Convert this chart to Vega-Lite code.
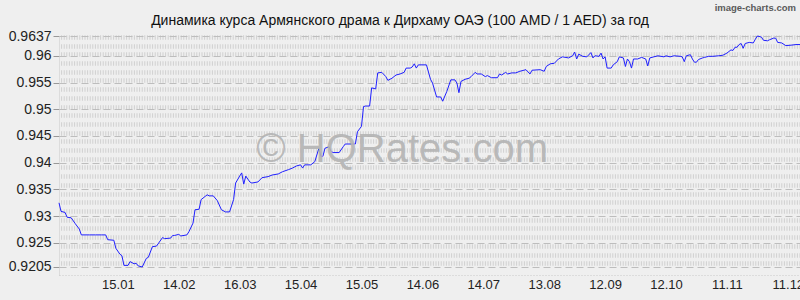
{
  "$schema": "https://vega.github.io/schema/vega-lite/v6.json",
  "width": 741,
  "height": 239,
  "autosize": {"type": "none"},
  "padding": {"left": 59, "top": 36, "right": 0, "bottom": 25},
  "background": "#efefef",
  "config": {
    "view": {"stroke": null},
    "font": "Liberation Sans"
  },
  "datasets": {
    "rates": [
      {"d": "2018-12-17", "v": 0.9325}, {"d": "2018-12-18", "v": 0.9309}, {"d": "2018-12-20", "v": 0.9307},
      {"d": "2018-12-21", "v": 0.9298}, {"d": "2018-12-23", "v": 0.9297}, {"d": "2018-12-25", "v": 0.9286},
      {"d": "2018-12-27", "v": 0.9276}, {"d": "2018-12-28", "v": 0.9265}, {"d": "2019-01-01", "v": 0.9265},
      {"d": "2019-01-04", "v": 0.9265}, {"d": "2019-01-07", "v": 0.9265}, {"d": "2019-01-09", "v": 0.9265},
      {"d": "2019-01-10", "v": 0.9256}, {"d": "2019-01-13", "v": 0.9255}, {"d": "2019-01-14", "v": 0.924},
      {"d": "2019-01-16", "v": 0.9229}, {"d": "2019-01-17", "v": 0.9226}, {"d": "2019-01-18", "v": 0.9208},
      {"d": "2019-01-20", "v": 0.9208}, {"d": "2019-01-21", "v": 0.9215}, {"d": "2019-01-23", "v": 0.9211},
      {"d": "2019-01-24", "v": 0.9212}, {"d": "2019-01-25", "v": 0.9207}, {"d": "2019-01-27", "v": 0.9205},
      {"d": "2019-01-29", "v": 0.9221}, {"d": "2019-01-30", "v": 0.9223}, {"d": "2019-02-01", "v": 0.9243},
      {"d": "2019-02-03", "v": 0.9244}, {"d": "2019-02-06", "v": 0.926}, {"d": "2019-02-07", "v": 0.9258},
      {"d": "2019-02-10", "v": 0.9259}, {"d": "2019-02-11", "v": 0.9264}, {"d": "2019-02-12", "v": 0.9264},
      {"d": "2019-02-14", "v": 0.9266}, {"d": "2019-02-15", "v": 0.9263}, {"d": "2019-02-18", "v": 0.9265},
      {"d": "2019-02-19", "v": 0.9271}, {"d": "2019-02-21", "v": 0.9287}, {"d": "2019-02-22", "v": 0.9312},
      {"d": "2019-02-24", "v": 0.9313}, {"d": "2019-02-25", "v": 0.9331}, {"d": "2019-02-27", "v": 0.9337},
      {"d": "2019-02-28", "v": 0.934}, {"d": "2019-03-01", "v": 0.9338}, {"d": "2019-03-03", "v": 0.9338},
      {"d": "2019-03-05", "v": 0.9329}, {"d": "2019-03-07", "v": 0.9312}, {"d": "2019-03-09", "v": 0.9308},
      {"d": "2019-03-11", "v": 0.9308}, {"d": "2019-03-13", "v": 0.9331}, {"d": "2019-03-14", "v": 0.9362},
      {"d": "2019-03-16", "v": 0.9375}, {"d": "2019-03-17", "v": 0.9381}, {"d": "2019-03-18", "v": 0.936},
      {"d": "2019-03-19", "v": 0.9375}, {"d": "2019-03-21", "v": 0.9364}, {"d": "2019-03-22", "v": 0.9362},
      {"d": "2019-03-25", "v": 0.9364}, {"d": "2019-03-27", "v": 0.9372}, {"d": "2019-03-30", "v": 0.9374},
      {"d": "2019-04-01", "v": 0.9377}, {"d": "2019-04-04", "v": 0.9379}, {"d": "2019-04-06", "v": 0.9383},
      {"d": "2019-04-09", "v": 0.9387}, {"d": "2019-04-11", "v": 0.939}, {"d": "2019-04-13", "v": 0.9394},
      {"d": "2019-04-15", "v": 0.9396}, {"d": "2019-04-16", "v": 0.939}, {"d": "2019-04-17", "v": 0.9396},
      {"d": "2019-04-20", "v": 0.9396}, {"d": "2019-04-22", "v": 0.9402}, {"d": "2019-04-24", "v": 0.9427},
      {"d": "2019-04-25", "v": 0.9412}, {"d": "2019-04-26", "v": 0.9412}, {"d": "2019-04-27", "v": 0.9427},
      {"d": "2019-04-29", "v": 0.943}, {"d": "2019-04-30", "v": 0.9421}, {"d": "2019-05-01", "v": 0.9419},
      {"d": "2019-05-04", "v": 0.9419}, {"d": "2019-05-06", "v": 0.943}, {"d": "2019-05-07", "v": 0.9435},
      {"d": "2019-05-12", "v": 0.9435}, {"d": "2019-05-13", "v": 0.9458}, {"d": "2019-05-15", "v": 0.9468},
      {"d": "2019-05-16", "v": 0.9505}, {"d": "2019-05-17", "v": 0.9506}, {"d": "2019-05-19", "v": 0.9506},
      {"d": "2019-05-20", "v": 0.954}, {"d": "2019-05-22", "v": 0.9538}, {"d": "2019-05-23", "v": 0.9568},
      {"d": "2019-05-25", "v": 0.9569}, {"d": "2019-05-27", "v": 0.9561}, {"d": "2019-05-28", "v": 0.9554},
      {"d": "2019-05-30", "v": 0.9558}, {"d": "2019-06-01", "v": 0.9564}, {"d": "2019-06-03", "v": 0.9566},
      {"d": "2019-06-05", "v": 0.9569}, {"d": "2019-06-06", "v": 0.9577}, {"d": "2019-06-08", "v": 0.9577},
      {"d": "2019-06-09", "v": 0.9579}, {"d": "2019-06-10", "v": 0.9585}, {"d": "2019-06-11", "v": 0.9577},
      {"d": "2019-06-12", "v": 0.9583}, {"d": "2019-06-16", "v": 0.9583}, {"d": "2019-06-18", "v": 0.9556},
      {"d": "2019-06-19", "v": 0.9549}, {"d": "2019-06-21", "v": 0.9523}, {"d": "2019-06-23", "v": 0.9523},
      {"d": "2019-06-24", "v": 0.9515}, {"d": "2019-06-26", "v": 0.9533}, {"d": "2019-06-28", "v": 0.9555},
      {"d": "2019-06-30", "v": 0.9555}, {"d": "2019-07-01", "v": 0.9549}, {"d": "2019-07-02", "v": 0.9531},
      {"d": "2019-07-03", "v": 0.9552}, {"d": "2019-07-05", "v": 0.9556}, {"d": "2019-07-07", "v": 0.9558},
      {"d": "2019-07-08", "v": 0.9561}, {"d": "2019-07-10", "v": 0.9569}, {"d": "2019-07-11", "v": 0.9566},
      {"d": "2019-07-13", "v": 0.9566}, {"d": "2019-07-15", "v": 0.9561}, {"d": "2019-07-16", "v": 0.9563},
      {"d": "2019-07-18", "v": 0.9559}, {"d": "2019-07-21", "v": 0.9559}, {"d": "2019-07-22", "v": 0.9566},
      {"d": "2019-07-23", "v": 0.9564}, {"d": "2019-07-25", "v": 0.9569}, {"d": "2019-07-26", "v": 0.9566},
      {"d": "2019-07-28", "v": 0.9568}, {"d": "2019-07-30", "v": 0.9568}, {"d": "2019-08-01", "v": 0.9571},
      {"d": "2019-08-04", "v": 0.9574}, {"d": "2019-08-06", "v": 0.9566}, {"d": "2019-08-07", "v": 0.9573},
      {"d": "2019-08-11", "v": 0.9574}, {"d": "2019-08-13", "v": 0.9571}, {"d": "2019-08-14", "v": 0.958},
      {"d": "2019-08-16", "v": 0.9585}, {"d": "2019-08-18", "v": 0.9586}, {"d": "2019-08-20", "v": 0.9594},
      {"d": "2019-08-22", "v": 0.9598}, {"d": "2019-08-25", "v": 0.9596}, {"d": "2019-08-27", "v": 0.96},
      {"d": "2019-08-28", "v": 0.9607}, {"d": "2019-08-29", "v": 0.9594}, {"d": "2019-08-30", "v": 0.9603},
      {"d": "2019-09-01", "v": 0.9599}, {"d": "2019-09-03", "v": 0.9598}, {"d": "2019-09-05", "v": 0.9606},
      {"d": "2019-09-06", "v": 0.9596}, {"d": "2019-09-07", "v": 0.96}, {"d": "2019-09-09", "v": 0.9599},
      {"d": "2019-09-10", "v": 0.9605}, {"d": "2019-09-11", "v": 0.9594}, {"d": "2019-09-12", "v": 0.9598},
      {"d": "2019-09-13", "v": 0.9577}, {"d": "2019-09-15", "v": 0.9577}, {"d": "2019-09-16", "v": 0.9583},
      {"d": "2019-09-18", "v": 0.9589}, {"d": "2019-09-19", "v": 0.9598}, {"d": "2019-09-21", "v": 0.9596},
      {"d": "2019-09-22", "v": 0.958}, {"d": "2019-09-23", "v": 0.9594}, {"d": "2019-09-24", "v": 0.9589},
      {"d": "2019-09-25", "v": 0.9577}, {"d": "2019-09-26", "v": 0.9594}, {"d": "2019-09-28", "v": 0.9594},
      {"d": "2019-09-30", "v": 0.9597}, {"d": "2019-10-02", "v": 0.9594}, {"d": "2019-10-03", "v": 0.9581},
      {"d": "2019-10-04", "v": 0.9596}, {"d": "2019-10-06", "v": 0.9598}, {"d": "2019-10-08", "v": 0.96},
      {"d": "2019-10-11", "v": 0.9598}, {"d": "2019-10-12", "v": 0.96}, {"d": "2019-10-14", "v": 0.9598},
      {"d": "2019-10-16", "v": 0.96}, {"d": "2019-10-19", "v": 0.9599}, {"d": "2019-10-20", "v": 0.9598},
      {"d": "2019-10-21", "v": 0.9589}, {"d": "2019-10-22", "v": 0.96}, {"d": "2019-10-24", "v": 0.9602},
      {"d": "2019-10-25", "v": 0.9594}, {"d": "2019-10-26", "v": 0.9588}, {"d": "2019-10-27", "v": 0.9588},
      {"d": "2019-10-28", "v": 0.9593}, {"d": "2019-10-30", "v": 0.9596}, {"d": "2019-10-31", "v": 0.9597},
      {"d": "2019-11-02", "v": 0.9599}, {"d": "2019-11-04", "v": 0.9599}, {"d": "2019-11-07", "v": 0.96},
      {"d": "2019-11-09", "v": 0.9601}, {"d": "2019-11-11", "v": 0.9605}, {"d": "2019-11-12", "v": 0.9608},
      {"d": "2019-11-13", "v": 0.9611}, {"d": "2019-11-14", "v": 0.961}, {"d": "2019-11-15", "v": 0.9616},
      {"d": "2019-11-16", "v": 0.9616}, {"d": "2019-11-17", "v": 0.9621}, {"d": "2019-11-18", "v": 0.9623},
      {"d": "2019-11-19", "v": 0.9614}, {"d": "2019-11-20", "v": 0.9623}, {"d": "2019-11-22", "v": 0.9625},
      {"d": "2019-11-24", "v": 0.9624}, {"d": "2019-11-25", "v": 0.9631}, {"d": "2019-11-26", "v": 0.9637},
      {"d": "2019-11-28", "v": 0.9635}, {"d": "2019-11-29", "v": 0.9629}, {"d": "2019-12-01", "v": 0.9628},
      {"d": "2019-12-02", "v": 0.963}, {"d": "2019-12-04", "v": 0.9633}, {"d": "2019-12-05", "v": 0.9633},
      {"d": "2019-12-06", "v": 0.9625}, {"d": "2019-12-08", "v": 0.9624}, {"d": "2019-12-10", "v": 0.9619},
      {"d": "2019-12-13", "v": 0.962}, {"d": "2019-12-15", "v": 0.9621}, {"d": "2019-12-17", "v": 0.9621}
    ],
    "labels": [{"label": "one"}]
  },
  "resolve": {"axis": {"y": "independent", "x": "independent"}},
  "layer": [
    {
      "data": {"name": "rates"},
      "mark": {"type": "line", "strokeOpacity": 0},
      "encoding": {
        "x": {"field": "d", "type": "temporal", "scale": {"type": "utc", "domain": [{"year": 2018, "month": 12, "date": 17, "utc": true}, {"year": 2019, "month": 12, "date": 17, "utc": true}]}, "axis": null},
        "y": {
          "field": "v", "type": "quantitative",
          "scale": {"domain": [0.919, 0.9637], "nice": false, "zero": false},
          "axis": {
            "orient": "right", "title": null, "labels": false, "ticks": false, "domain": false,
            "grid": true, "gridColor": "#d0d0d0", "gridWidth": 4.5, "gridDash": [1, 1.6],
            "values": [0.9212, 0.92283, 0.92446, 0.92609, 0.92771, 0.92934, 0.93097, 0.9326, 0.93423, 0.93586, 0.93749, 0.93911, 0.94074, 0.94237, 0.944, 0.94563, 0.94726, 0.94889, 0.95051, 0.95214, 0.95377, 0.9554, 0.95703, 0.95866, 0.96029, 0.96191, 0.96354]
          }
        }
      }
    },
    {
      "data": {"name": "rates"},
      "mark": {"type": "line", "color": "#1f1fff", "strokeWidth": 1, "interpolate": "linear"},
      "encoding": {
        "x": {
          "field": "d", "type": "temporal",
          "scale": {"type": "utc", "domain": [{"year": 2018, "month": 12, "date": 17, "utc": true}, {"year": 2019, "month": 12, "date": 17, "utc": true}]},
          "axis": {
            "orient": "bottom", "title": null, "grid": false, "ticks": false,
            "domain": true, "domainColor": "#c8c8c8", "domainDash": [1, 2], "domainWidth": 1,
            "labelFont": "Liberation Sans", "labelFontSize": 13, "labelColor": "#222222", "labelPadding": 3,
            "labelExpr": "utcFormat(datum.value, '%d.%m')",
            "labelOverlap": false,
            "values": [
              {"year": 2019, "month": 1, "date": 15, "utc": true},
              {"year": 2019, "month": 2, "date": 14, "utc": true},
              {"year": 2019, "month": 3, "date": 16, "utc": true},
              {"year": 2019, "month": 4, "date": 15, "utc": true},
              {"year": 2019, "month": 5, "date": 15, "utc": true},
              {"year": 2019, "month": 6, "date": 14, "utc": true},
              {"year": 2019, "month": 7, "date": 14, "utc": true},
              {"year": 2019, "month": 8, "date": 13, "utc": true},
              {"year": 2019, "month": 9, "date": 12, "utc": true},
              {"year": 2019, "month": 10, "date": 12, "utc": true},
              {"year": 2019, "month": 11, "date": 11, "utc": true},
              {"year": 2019, "month": 12, "date": 11, "utc": true}
            ]
          }
        },
        "y": {
          "field": "v", "type": "quantitative",
          "scale": {"domain": [0.919, 0.9637], "nice": false, "zero": false},
          "axis": {
            "orient": "left", "title": null,
            "values": [0.9205, 0.925, 0.93, 0.935, 0.94, 0.945, 0.95, 0.955, 0.96, 0.9637],
            "labelExpr": "'' + datum.value",
            "labelFont": "Liberation Sans", "labelFontSize": 14, "labelColor": "#222222", "labelPadding": 2,
            "ticks": true, "tickSize": 6, "tickColor": "#999999", "tickWidth": 1,
            "domain": true, "domainColor": "#c8c8c8", "domainDash": [1, 1],
            "grid": true, "gridColor": "#bdbdbd", "gridDash": [7, 4], "gridWidth": 1,
            "labelOverlap": false
          }
        }
      }
    },
    {
      "data": {"name": "labels"},
      "mark": {"type": "text", "text": "© HQRates.com", "font": "Liberation Sans", "fontSize": 40, "color": "#b4b4b4", "opacity": 0.9, "align": "center", "baseline": "alphabetic"},
      "encoding": {
        "x": {"datum": {"year": 2019, "month": 6, "date": 4, "utc": true}, "type": "temporal", "axis": null},
        "y": {"datum": 0.9402, "type": "quantitative", "axis": null}
      }
    },
    {
      "data": {"name": "labels"},
      "mark": {"type": "text", "text": "Динамика курса Армянского драма к Дирхаму ОАЭ (100 AMD / 1 AED) за год", "font": "Liberation Sans", "fontSize": 14, "color": "#111111", "align": "center", "baseline": "alphabetic", "clip": false},
      "encoding": {
        "x": {"datum": {"year": 2019, "month": 6, "date": 3, "utc": true}, "type": "temporal", "axis": null},
        "y": {"datum": 0.9658, "type": "quantitative", "axis": null}
      }
    },
    {
      "data": {"name": "labels"},
      "mark": {"type": "text", "text": "image-charts.com", "font": "Liberation Sans", "fontSize": 9.5, "fontWeight": "bold", "color": "#5a5a5a", "align": "right", "baseline": "alphabetic", "clip": false},
      "encoding": {
        "x": {"datum": {"year": 2019, "month": 12, "date": 15, "utc": true}, "type": "temporal", "axis": null},
        "y": {"datum": 0.9684, "type": "quantitative", "axis": null}
      }
    }
  ]
}
